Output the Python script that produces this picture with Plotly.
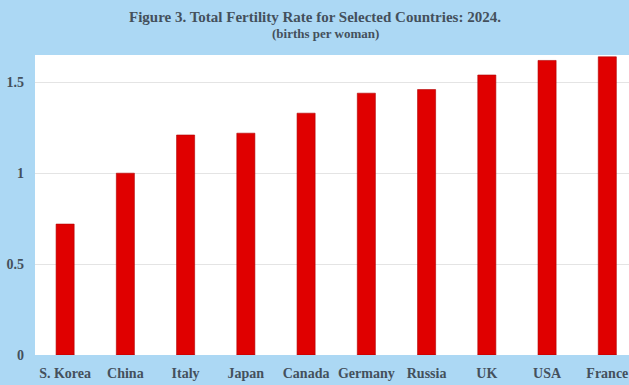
import plotly.graph_objects as go

countries = ["S. Korea", "China", "Italy", "Japan", "Canada", "Germany", "Russia", "UK", "USA", "France"]
tfr = [0.72, 1.00, 1.21, 1.22, 1.33, 1.44, 1.46, 1.54, 1.62, 1.64]
y_ticks = [0, 0.5, 1, 1.5]
y_tick_labels = ["0", "0.5", "1", "1.5"]

title_text = "Figure 3. Total Fertility Rate for Selected Countries: 2024."
subtitle_text = "(births per woman)"

text_color = "#44505c"
font_family = "Liberation Serif, Times New Roman, serif"

W, H = 629, 385
ML, MR, MT, MB = 35, 0, 55, 30

fig = go.Figure()
fig.add_trace(go.Bar(
    x=countries,
    y=tfr,
    width=0.3,
    marker=dict(color="#e00000", line=dict(color="#b00000", width=0.6)),
))

plot_h = H - MT - MB
plot_w = W - ML - MR


def px_to_paper_y(py):
    return (H - MB - py) / plot_h


def px_to_paper_x(px):
    return (px - ML) / plot_w


fig.update_layout(
    width=W,
    height=H,
    margin=dict(l=ML, r=MR, t=MT, b=MB),
    paper_bgcolor="#acd8f4",
    plot_bgcolor="#ffffff",
    showlegend=False,
    font=dict(family=font_family, color=text_color),
    annotations=[
        dict(text="<b>" + title_text + "</b>", x=px_to_paper_x(315), y=px_to_paper_y(17),
             xref="paper", yref="paper", xanchor="center", yanchor="middle",
             showarrow=False, font=dict(size=15, family=font_family, color=text_color)),
        dict(text="<b>" + subtitle_text + "</b>", x=px_to_paper_x(325), y=px_to_paper_y(34),
             xref="paper", yref="paper", xanchor="center", yanchor="middle",
             showarrow=False, font=dict(size=13, family=font_family, color=text_color)),
    ],
)

fig.update_xaxes(
    range=[-0.5, 9.36],
    showgrid=False,
    showline=False,
    ticks="",
    ticklabelstandoff=8,
    tickfont=dict(size=14, family=font_family, color=text_color, weight="bold"),
    fixedrange=True,
)
fig.update_yaxes(
    range=[0, 1.65],
    tickvals=y_ticks,
    ticktext=y_tick_labels,
    showgrid=True,
    gridcolor="#e4e4e4",
    gridwidth=1,
    zeroline=False,
    showline=False,
    ticks="",
    ticklabelstandoff=10,
    tickfont=dict(size=14, family=font_family, color=text_color, weight="bold"),
    fixedrange=True,
)

fig.write_html("out.html", config={"displayModeBar": False},
               post_script="document.body.style.margin='0';")
